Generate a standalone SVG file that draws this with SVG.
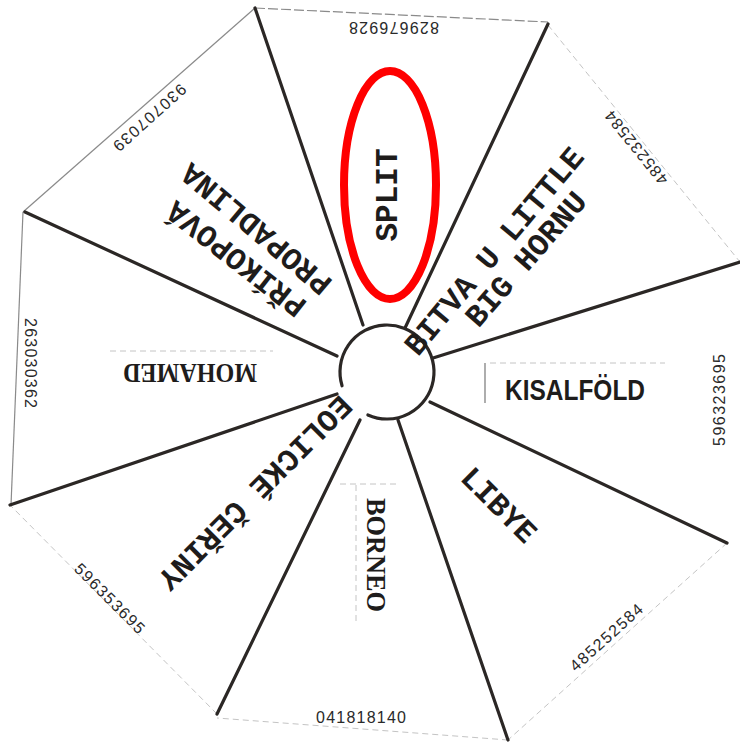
<svg xmlns="http://www.w3.org/2000/svg" width="740" height="742" viewBox="0 0 740 742">
<style>
.spoke{stroke:#2b2725;stroke-width:3.2;stroke-linecap:round;fill:none}
.edge{stroke:#8a8a8a;stroke-width:1.2;fill:none}
.faint{stroke:#c4c4c4;stroke-width:1;fill:none;stroke-dasharray:6 4}
.mono{font-family:"Liberation Mono","DejaVu Sans Mono",monospace;font-weight:bold;font-size:31px;fill:#1e1c1b}
.ser{font-family:"Liberation Serif","DejaVu Serif",serif;font-weight:bold;font-size:27px;fill:#1e1c1b}
.sans{font-family:"Liberation Sans",Arial,sans-serif;font-weight:bold;font-size:30px;fill:#1e1c1b}
.num{font-family:"Liberation Sans",Arial,sans-serif;font-size:16px;fill:#2a2a2a}
</style>
<rect width="740" height="742" fill="#ffffff"/>

<g id="outline">
<line class="edge" x1="255" y1="8" x2="548" y2="22" stroke-dasharray="10 3"/>
<line class="faint" x1="548" y1="25" x2="740" y2="262"/>
<line class="faint" x1="727" y1="543" x2="508" y2="740"/>
<line class="faint" x1="508" y1="740" x2="217" y2="718"/>
<line class="faint" x1="217" y1="714" x2="10" y2="505"/>
<line class="edge" x1="11" y1="505" x2="23" y2="212" stroke="#666"/>
<line class="edge" x1="23" y1="212" x2="255" y2="8" stroke="#777"/>
</g>

<g id="frames">
<line x1="485" y1="363" x2="485" y2="403" stroke="#777" stroke-width="1.2"/>
<line class="faint" x1="490" y1="363" x2="665" y2="363"/>
<line class="faint" x1="110" y1="351" x2="273" y2="351"/>
<line class="faint" x1="356" y1="485" x2="356" y2="625"/>
<line class="faint" x1="340" y1="484" x2="400" y2="484"/>
</g>

<g id="connectors">
<line class="spoke" x1="363" y1="325" x2="255" y2="8"/>
<line class="spoke" x1="405" y1="328" x2="548" y2="24"/>
<line class="spoke" x1="433" y1="358" x2="740" y2="262"/>
<line class="spoke" x1="430" y1="402" x2="727" y2="543"/>
<line class="spoke" x1="398" y1="420" x2="508" y2="740"/>
<line class="spoke" x1="360" y1="420" x2="217" y2="714"/>
<line class="spoke" x1="337" y1="394" x2="10" y2="505"/>
<line class="spoke" x1="337" y1="356" x2="25" y2="212"/>
</g>

<g id="hub">
<path class="spoke" d="M342.05,385.74 A47,47 0 1 1 367.88,414.94"/>
</g>

<g id="n-split"><g transform="translate(387,195) rotate(-90)"><text class="mono" x="0" y="10" text-anchor="middle">SPLIT</text></g></g>
<g id="n-bitva">
<g transform="translate(494,251) rotate(-50)"><text class="mono" x="0" y="10" text-anchor="middle">BITVA U LITTLE</text></g>
<g transform="translate(526,259) rotate(-49)"><text class="mono" x="0" y="10" text-anchor="middle">BIG HORNU</text></g>
</g>
<g id="n-kisalfold"><text class="sans" x="575" y="400" text-anchor="middle" textLength="140" lengthAdjust="spacingAndGlyphs">KISALFÖLD</text></g>
<g id="n-libye"><g transform="translate(499,505) rotate(45)"><text class="mono" x="0" y="10" text-anchor="middle">LIBYE</text></g></g>
<g id="n-borneo"><g transform="translate(376,555) rotate(90)"><text class="ser" x="0" y="9" text-anchor="middle" textLength="114" lengthAdjust="spacingAndGlyphs">BORNEO</text></g></g>
<g id="n-eolicke"><g transform="translate(255,493) rotate(135)"><text class="mono" x="0" y="10" text-anchor="middle">EOLICKÉ ČEŘINY</text></g></g>
<g id="n-mohamed"><g transform="translate(190,373) rotate(180)"><text class="ser" x="0" y="9" text-anchor="middle" textLength="134" lengthAdjust="spacingAndGlyphs">MOHAMED</text></g></g>
<g id="n-prikopova">
<g transform="translate(236,259) rotate(218)"><text class="mono" x="0" y="10" text-anchor="middle">PŘÍKOPOVÁ</text></g>
<g transform="translate(256,229) rotate(220)"><text class="mono" x="0" y="10" text-anchor="middle">PROPADLINA</text></g>
</g>

<g id="numbers">
<g transform="translate(394,28) rotate(180)"><text class="num" x="0" y="6" text-anchor="middle" textLength="90">829676928</text></g>
<g transform="translate(636,148) rotate(231)"><text class="num" x="0" y="6" text-anchor="middle" textLength="90">485232584</text></g>
<g transform="translate(719,400) rotate(-90)"><text class="num" x="0" y="6" text-anchor="middle" textLength="92">596323695</text></g>
<g transform="translate(606,637) rotate(-42)"><text class="num" x="0" y="6" text-anchor="middle" textLength="92">485252584</text></g>
<g transform="translate(361,717) rotate(0)"><text class="num" x="0" y="6" text-anchor="middle" textLength="90">041818140</text></g>
<g transform="translate(110,598) rotate(45)"><text class="num" x="0" y="6" text-anchor="middle" textLength="92">596353695</text></g>
<g transform="translate(31,363) rotate(90)"><text class="num" x="0" y="6" text-anchor="middle" textLength="90">263030362</text></g>
<g transform="translate(150,118) rotate(138)"><text class="num" x="0" y="6" text-anchor="middle" textLength="92">930707039</text></g>
</g>

<ellipse id="highlight" cx="390" cy="185" rx="46" ry="114" fill="none" stroke="#ff0000" stroke-width="8"/>
</svg>
